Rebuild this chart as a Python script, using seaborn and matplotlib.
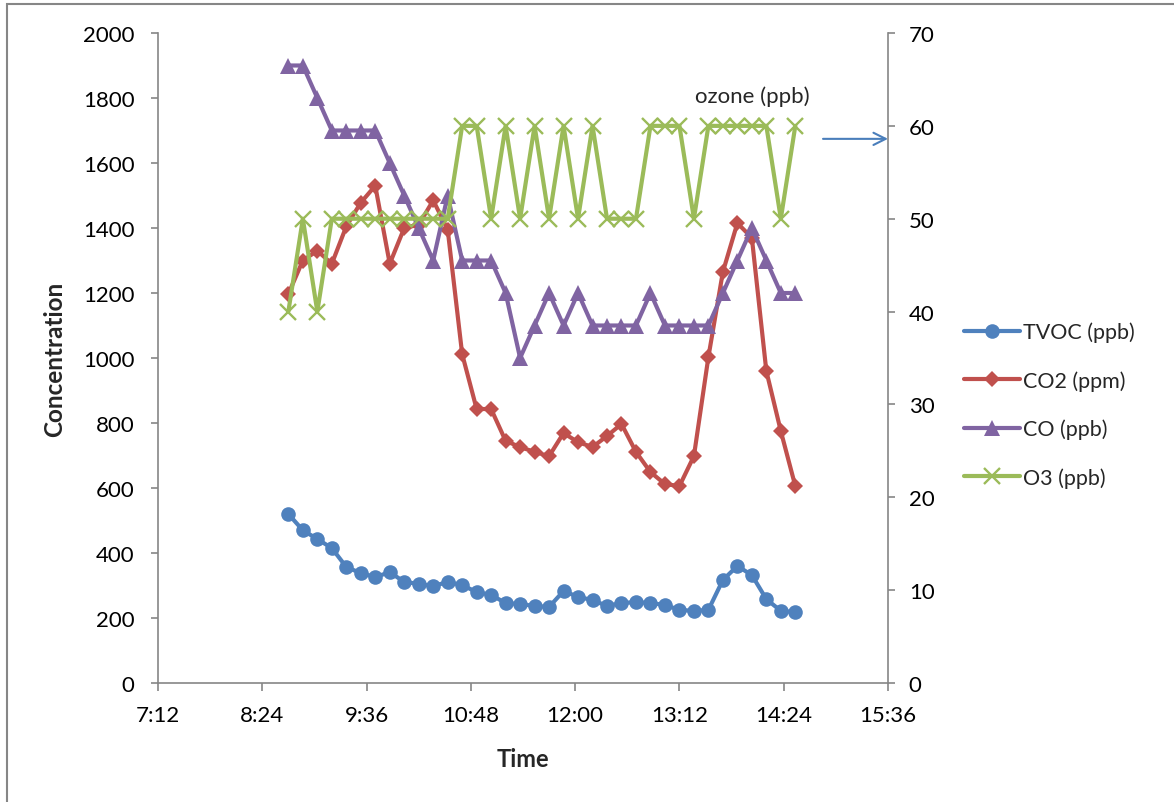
import matplotlib
matplotlib.use("Agg")
import matplotlib.pyplot as plt
from matplotlib.patches import Rectangle
from matplotlib.lines import Line2D
import seaborn as sns
import pandas as pd

sns.set_theme(style="white")
plt.rcParams['font.family'] = ['Lato', 'DejaVu Sans']

times = ["8:42", "8:52", "9:02", "9:12", "9:22", "9:32", "9:42", "9:52", "10:02",
         "10:12", "10:22", "10:32", "10:42", "10:52", "11:02", "11:12", "11:22",
         "11:32", "11:42", "11:52", "12:02", "12:12", "12:22", "12:32", "12:42",
         "12:52", "13:02", "13:12", "13:22", "13:32", "13:42", "13:52", "14:02",
         "14:12", "14:22", "14:32"]

tvoc = [520, 470, 443, 415, 357, 338, 326, 341, 311, 305, 298, 311, 301, 280, 271,
        246, 243, 237, 234, 283, 265, 255, 237, 246, 249, 246, 240, 225, 222, 225,
        317, 360, 332, 258, 222, 218]
co2 = [1197, 1300, 1330, 1290, 1405, 1478, 1530, 1290, 1400, 1410, 1485, 1395,
       1012, 843, 843, 745, 726, 711, 698, 769, 741, 726, 760, 797, 711, 649, 612,
       606, 698, 1003, 1265, 1415, 1370, 960, 775, 606]
co = [1900, 1900, 1800, 1700, 1700, 1700, 1700, 1600, 1500, 1400, 1300, 1500,
      1300, 1300, 1300, 1200, 1000, 1100, 1200, 1100, 1200, 1100, 1100, 1100, 1100,
      1200, 1100, 1100, 1100, 1100, 1200, 1300, 1400, 1300, 1200, 1200]
o3 = [40, 50, 40, 50, 50, 50, 50, 50, 50, 50, 50, 50, 60, 60, 50, 60, 50, 60, 50,
      60, 50, 60, 50, 50, 50, 60, 60, 60, 50, 60, 60, 60, 60, 60, 50, 60]

series_names = ["TVOC (ppb)", "CO2 (ppm)", "CO (ppb)", "O3 (ppb)"]
x_tick_labels = ["7:12", "8:24", "9:36", "10:48", "12:00", "13:12", "14:24", "15:36"]


def to_min(s):
    h, m = s.split(":")
    return int(h) * 60 + int(m)


df = pd.DataFrame({"t": [to_min(s) for s in times], "TVOC": tvoc, "CO2": co2,
                   "CO": co, "O3": o3})

colors = {"TVOC": "#4F81BD", "CO2": "#C0504D", "CO": "#8064A2", "O3": "#9BBB59"}
gray = "#868686"

fig = plt.figure(figsize=(11.74, 8.03), dpi=100)
ax = fig.add_axes([158 / 1174, 1 - 684 / 803, 730 / 1174, 650 / 803])
ax2 = ax.twinx()

lw = 3.0
styles = {
    "TVOC": dict(marker="o", markersize=10.5, markeredgewidth=0),
    "CO2": dict(marker="D", markersize=8, markeredgewidth=0),
    "CO": dict(marker="^", markersize=11, markeredgewidth=0),
    "O3": dict(marker="x", markersize=11, markeredgewidth=1.7),
}

for key, a in (("TVOC", ax), ("CO2", ax), ("CO", ax), ("O3", ax2)):
    sns.lineplot(data=df, x="t", y=key, ax=a, color=colors[key], lw=lw,
                 markeredgecolor=colors[key], markerfacecolor=colors[key],
                 **styles[key])

tick_pos = [to_min(s) for s in x_tick_labels]
ax.set_xlim(tick_pos[0], tick_pos[-1])
ax.set_xticks(tick_pos)
ax.set_xticklabels(x_tick_labels)
ax.set_ylim(0, 2000)
ax.set_yticks(range(0, 2001, 200))
ax2.set_ylim(0, 70)
ax2.set_yticks(range(0, 71, 10))

fs = 16
for a in (ax, ax2):
    a.grid(False)
    a.set_facecolor("none")
    for sp in a.spines.values():
        sp.set_color(gray)
        sp.set_linewidth(1.2)
    a.spines["top"].set_visible(False)
ax.spines["right"].set_visible(False)
ax2.spines["left"].set_visible(False)
ax2.spines["bottom"].set_visible(False)

ax.tick_params(axis="y", which="both", left=True, direction="out", length=5,
               width=1.2, color=gray, labelsize=fs, pad=12, labelcolor="black")
ax.tick_params(axis="x", which="both", bottom=True, direction="out", length=6,
               width=1.2, color=gray, labelsize=fs, pad=10, labelcolor="black")
ax2.tick_params(axis="y", which="both", right=True, direction="out", length=5,
                width=1.2, color=gray, labelsize=fs, pad=10, labelcolor="black")

ax.set_xlabel("Time", fontsize=17, fontweight="bold", labelpad=16)
ax.set_ylabel("Concentration", fontsize=17.5, fontweight="bold", labelpad=12)
ax2.set_ylabel("")

# annotation
ax2.text(0.814, 63.2, "ozone (ppb)", transform=ax2.get_yaxis_transform(),
         ha="center", va="center", fontsize=16)
ax2.annotate("", xy=(1.0, 58.6), xytext=(0.911, 58.6),
             xycoords=ax2.get_yaxis_transform(), textcoords=ax2.get_yaxis_transform(),
             arrowprops=dict(arrowstyle="->", color="#4A7EBB", lw=1.5,
                             mutation_scale=22, shrinkA=0, shrinkB=0))

# legend
handles = [Line2D([], [], color=colors[k], lw=lw, markeredgecolor=colors[k],
                  markerfacecolor=colors[k], **styles[k])
           for k in ("TVOC", "CO2", "CO", "O3")]
if ax.get_legend():
    ax.get_legend().remove()
fig.legend(handles, series_names, loc="upper left",
           bbox_to_anchor=(955 / 1174, 1 - 314 / 803), frameon=False, fontsize=15.5,
           handlelength=2.6, handletextpad=0.15, labelspacing=1.3, borderaxespad=0)

# chart border
fig.patches.append(Rectangle((7 / 1174, -0.1), 1.2, 1 - 5 / 803 + 0.1,
                             transform=fig.transFigure, fill=False,
                             edgecolor=gray, lw=1.5, zorder=0))

fig.savefig("out.png", dpi=100)
